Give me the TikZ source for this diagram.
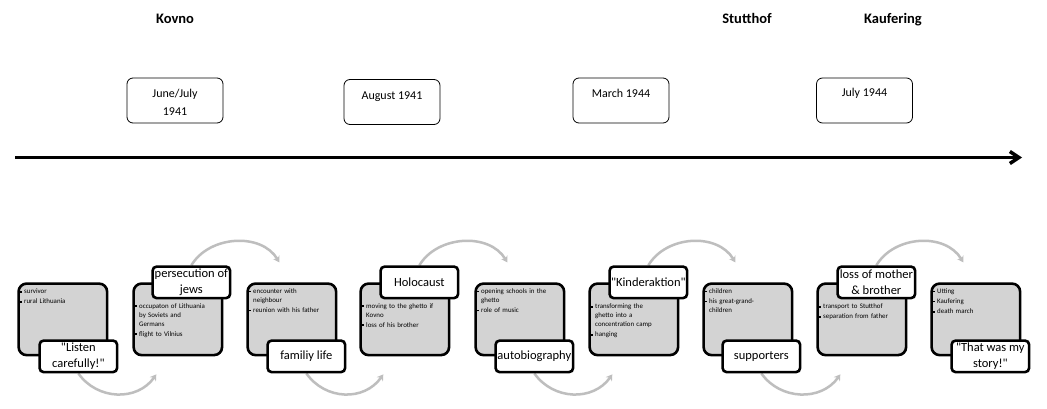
\documentclass[tikz,border=0pt]{standalone}
\usepackage{fontspec}
\setmainfont{Carlito}[Ligatures=TeXOff]
\usetikzlibrary{arrows.meta,calc}
\definecolor{boxgray}{RGB}{211,211,211}
\definecolor{arcgray}{RGB}{190,190,190}
\newcommand\bulpt{\rule[1pt]{1.8pt}{1.8pt}\hspace{2.6pt}}
\newcommand\bitem{\par\noindent\strut\bulpt}
\newcommand\cont{\newline\hspace*{4.4pt}}
\pgfdeclarelayer{bg}
\pgfsetlayers{bg,main}
\begin{document}
\begin{tikzpicture}[x=1pt,y=-1pt,
  gbox/.style={draw=black, line width=2.6pt, fill=boxgray, rounded corners=8pt,
    minimum width=88.5pt, minimum height=71.5pt, inner sep=0pt, anchor=north west},
  btext/.style={anchor=north west, inner sep=0pt, text width=86pt, align=left,
    font=\fontsize{6.9}{9}\selectfont, execute at begin node=\setlength{\parskip}{1.1pt}},
  lbox/.style={draw=black, line width=2.6pt, fill=white, rounded corners=4pt,
    minimum width=77.5pt, minimum height=31.5pt, inner sep=0pt, align=center,
    font=\fontsize{12.5}{15.5}\selectfont, anchor=north west},
  dbox/.style={draw=black, line width=0.8pt, rounded corners=6pt,
    minimum width=96pt, minimum height=45pt, inner sep=0pt},
  dtext/.style={inner sep=0pt, align=center, font=\fontsize{12}{18}\selectfont},
  place/.style={font=\bfseries\fontsize{14.5}{16}\selectfont, inner sep=0pt, anchor=base},
  flow/.style={draw=arcgray, line width=2.5pt, -{Stealth[length=6pt,width=7.5pt]}},
  timeline/.style={draw=black, line width=3.5pt, -{Straight Barb[length=9pt,width=12pt]}},
]
\useasboundingbox (0,0) rectangle (1047,409);
\begin{pgfonlayer}{bg}
\fill[white] (0,0) rectangle (1047,409);
\end{pgfonlayer}

% places
\node[place] (p1) at (175,24) {Kovno};
\node[place] (p2) at (747,24) {Stutthof};
\node[place] (p3) at (893,24) {Kaufering};

% dates
\node[dbox] (d1) at (175,100.5) {};
\node[dtext] (d1t) at (175,102) {June/July\\1941};
\node[dbox] (d2) at (392,102) {};
\node[dtext, anchor=base] (d2t) at (392,100) {August 1941};
\node[dbox] (d3) at (621,100.5) {};
\node[dtext, anchor=base] (d3t) at (621,98) {March 1944};
\node[dbox] (d4) at (864.5,100.5) {};
\node[dtext, anchor=base] (d4t) at (864.5,97) {July 1944};

% timeline
\coordinate (t0) at (15,157.5);
\coordinate (t1) at (1022,157.5);
\draw[timeline] (t0) -- (t1);

% gray boxes
\node[gbox] (b1) at (17.3,282.3) {};
\node[gbox] (b2) at (132.3,282.3) {};
\node[gbox] (b3) at (246.3,282.3) {};
\node[gbox] (b4) at (359.3,282.3) {};
\node[gbox] (b5) at (474.3,282.3) {};
\node[gbox] (b6) at (588.3,282.3) {};
\node[gbox] (b7) at (702.3,282.3) {};
\node[gbox] (b8) at (816.3,282.3) {};
\node[gbox] (b9) at (930.3,282.3) {};

% bullet texts
\node[btext] (x1) at ($(b1.north west)+(2.3,1)$) {\bitem survivor\bitem rural Lithuania};
\node[btext] (x2) at ($(b2.north west)+(2.3,15.5)$) {\bitem occupaton of Lithuania\cont by Soviets and\cont Germans\bitem flight to Vilnius};
\node[btext] (x3) at ($(b3.north west)+(2.3,0.7)$) {\bitem encounter with\cont neighbour\bitem reunion with his father};
\node[btext] (x4) at ($(b4.north west)+(2.3,15.5)$) {\bitem moving to the ghetto if\cont Kovno\bitem loss of his brother};
\node[btext] (x5) at ($(b5.north west)+(2.3,0.7)$) {\bitem opening schools in the\cont ghetto\bitem role of music};
\node[btext] (x6) at ($(b6.north west)+(2.3,16)$) {\bitem transforming the\cont ghetto into a\cont concentration camp\bitem hanging};
\node[btext] (x7) at ($(b7.north west)+(2.3,0.7)$) {\bitem children\bitem his great-grand-\cont children};
\node[btext] (x8) at ($(b8.north west)+(2.3,16)$) {\bitem transport to Stutthof\bitem separation from father};
\node[btext] (x9) at ($(b9.north west)+(2.3,0.7)$) {\bitem Utting\bitem Kaufering\bitem death march};

% labels
\node[lbox] (l1) at (38.3,339.3) {"Listen\\carefully!"};
\node[lbox] (l2) at (151.3,265.3) {persecution of\\jews};
\node[lbox] (l3) at (266.3,339.3) {familiy life};
\node[lbox] (l4) at (379.3,265.3) {Holocaust};
\node[lbox] (l5) at (494.3,339.3) {autobiography};
\node[lbox] (l6) at (608.3,265.3) {"Kinderaktion"};
\node[lbox] (l7) at (721.3,339.3) {supporters};
\node[lbox] (l8) at (836.3,265.3) {loss of mother\\\& brother};
\node[lbox] (l9) at (950.3,339.3) {"That was my\\story!"};

% curved connectors
\begin{pgfonlayer}{bg}
\draw[flow] (l1.south) .. controls +(19,27) and +(-19,27) .. ($(b2.south west)+(24,18)$);
\draw[flow] (l3.south) .. controls +(19,27) and +(-19,27) .. ($(b4.south west)+(24,18)$);
\draw[flow] (l5.south) .. controls +(19,27) and +(-19,27) .. ($(b6.south west)+(24,18)$);
\draw[flow] (l7.south) .. controls +(19,27) and +(-19,27) .. ($(b8.south west)+(24,18)$);
\draw[flow] (l2.north) .. controls +(18,-30) and +(-18,-30) .. ($(b3.north west)+(33,-20)$);
\draw[flow] (l4.north) .. controls +(18,-30) and +(-18,-30) .. ($(b5.north west)+(33,-20)$);
\draw[flow] (l6.north) .. controls +(18,-30) and +(-18,-30) .. ($(b7.north west)+(33,-20)$);
\draw[flow] (l8.north) .. controls +(18,-30) and +(-18,-30) .. ($(b9.north west)+(33,-20)$);
\end{pgfonlayer}
\end{tikzpicture}
\end{document}
